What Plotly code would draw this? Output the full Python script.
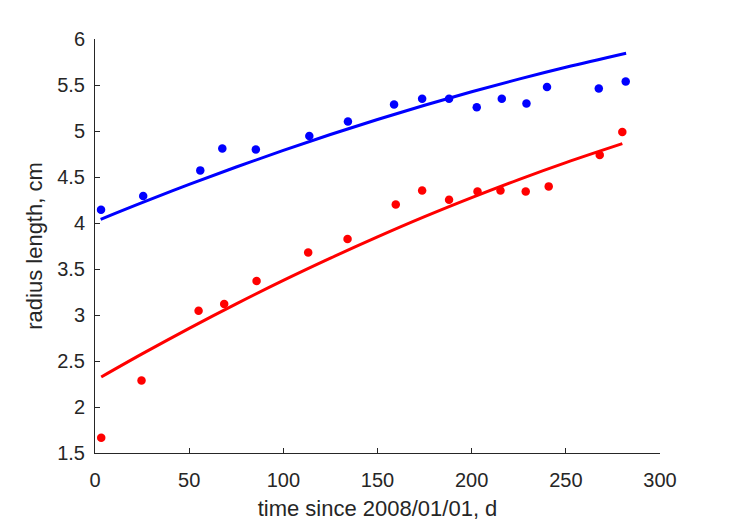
import plotly.graph_objects as go

# Measured data
t_blue = [3.2, 25.6, 55.9, 67.6, 85.4, 113.8, 134.3, 158.8, 173.7, 188.0, 202.7, 216.0, 229.1, 240.0, 267.5, 281.8]
r_blue = [4.145, 4.293, 4.572, 4.811, 4.80, 4.946, 5.104, 5.289, 5.351, 5.351, 5.257, 5.351, 5.30, 5.478, 5.463, 5.539]

t_red = [3.3, 24.7, 55.0, 68.6, 85.8, 113.2, 134.1, 159.7, 173.7, 188.0, 203.1, 215.3, 228.7, 240.9, 268.0, 280.0]
r_red = [1.666, 2.289, 3.047, 3.12, 3.370, 3.680, 3.826, 4.202, 4.354, 4.253, 4.343, 4.354, 4.343, 4.398, 4.739, 4.989]

# Fitted curves
t_fit_blue = [3, 25, 50, 75, 100, 125, 150, 175, 200, 225, 250, 282]
r_fit_blue = [4.040, 4.221, 4.419, 4.609, 4.789, 4.962, 5.125, 5.280, 5.426, 5.564, 5.693, 5.846]

t_fit_red = [3.3, 25, 50, 75, 100, 125, 150, 175, 200, 225, 250, 280]
r_fit_red = [2.326, 2.577, 2.855, 3.121, 3.376, 3.618, 3.849, 4.069, 4.276, 4.472, 4.656, 4.862]

x_ticks = [0, 50, 100, 150, 200, 250, 300]
y_ticks = [1.5, 2, 2.5, 3, 3.5, 4, 4.5, 5, 5.5, 6]
y_tick_text = ["1.5", "2", "2.5", "3", "3.5", "4", "4.5", "5", "5.5", "6"]

FONT = "Liberation Sans, Arial, Helvetica, sans-serif"
INK = "#262626"

fig = go.Figure()
fig.add_trace(go.Scatter(x=t_blue, y=r_blue, mode="markers",
                         marker=dict(color="#0000FF", size=8.5), showlegend=False))
fig.add_trace(go.Scatter(x=t_red, y=r_red, mode="markers",
                         marker=dict(color="#FF0000", size=8.5), showlegend=False))
fig.add_trace(go.Scatter(x=t_fit_blue, y=r_fit_blue, mode="lines",
                         line=dict(color="#0000FF", width=3, shape="spline"), showlegend=False))
fig.add_trace(go.Scatter(x=t_fit_red, y=r_fit_red, mode="lines",
                         line=dict(color="#FF0000", width=3, shape="spline"), showlegend=False))

axis_common = dict(
    showgrid=False, zeroline=False, showline=True, linecolor=INK, linewidth=1,
    ticks="inside", ticklen=5, tickwidth=1, tickcolor=INK,
    tickfont=dict(family=FONT, size=20, color=INK),
    mirror=False, automargin=False,
)

fig.update_layout(
    width=729, height=521,
    margin=dict(l=95, r=69, t=39, b=68),
    plot_bgcolor="white", paper_bgcolor="white",
    xaxis=dict(range=[0, 300], tickvals=x_ticks, ticklabelstandoff=9,
               title=dict(text="time since 2008/01/01, d", standoff=10,
                          font=dict(family=FONT, size=22, color=INK)),
               **axis_common),
    yaxis=dict(range=[1.5, 6], tickvals=y_ticks, ticktext=y_tick_text, ticklabelstandoff=5,
               title=dict(text="radius length, cm", standoff=8,
                          font=dict(family=FONT, size=22, color=INK)),
               **axis_common),
)

fig.write_html("out.html")
